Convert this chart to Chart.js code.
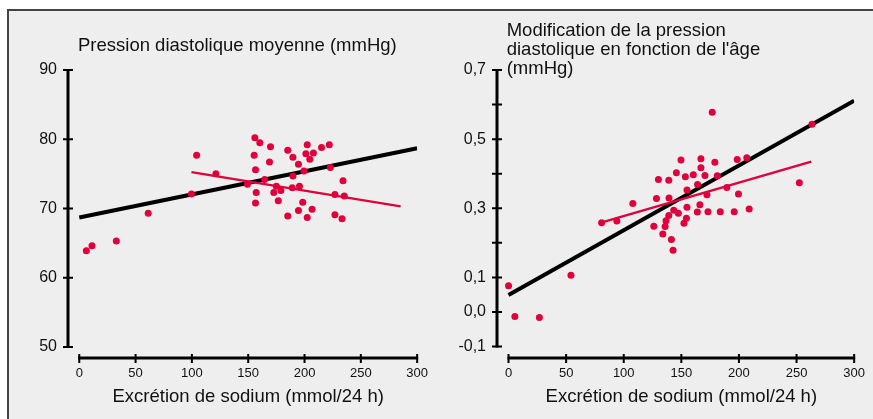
<!DOCTYPE html>
<html>
<head>
<meta charset="utf-8">
<script src="https://cdn.jsdelivr.net/npm/chart.js@4.4.1/dist/chart.umd.min.js"></script>
<style>
body { margin:0; background:#fff; width:873px; height:419px; overflow:hidden; position:relative; }
#frame { position:absolute; left:7px; top:9px; width:864px; height:420px; background:#eeeeee;
         border-top:2px solid #444; border-left:2px solid #444; border-right:1px solid #dcdcdc; }
#leftBox { position:absolute; left:0; top:0; width:436px; height:419px; }
#rightBox { position:absolute; left:436px; top:0; width:437px; height:419px; }
</style>
</head>
<body>
<div id="frame"></div>
<div id="leftBox"><canvas id="chartA" width="436" height="419"></canvas></div>
<div id="rightBox"><canvas id="chartB" width="437" height="419"></canvas></div>
<script>
// graphique de gauche : pression diastolique moyenne
const sodiumA = [6.3, 11.3, 32.9, 61.2, 99.6, 104.2, 121.3, 149.3, 155.9, 155.3, 160.3, 156.5, 157.1, 156.5, 164.6,
                 168.9, 169.8, 172.7, 175, 176.7, 179, 185.1, 185.1, 189.7, 189.7, 189.1, 194.6, 194.6, 195.5, 198.4,
                 199.5, 201.2, 202.4, 204.7, 202.4, 206.7, 207.9, 215.1, 222, 222.9, 227, 227, 234.2, 235.3, 233.3]
const pressionA = [63.9, 64.6, 65.3, 69.3, 72.1, 77.7, 75.0, 73.5, 80.2, 77.7, 79.5, 75.6, 72.3, 70.8, 74.2,
                   76.7, 78.9, 72.3, 73.2, 71.1, 72.6, 78.4, 68.9, 77.4, 74.7, 73.0, 76.4, 69.7, 73.2, 70.9,
                   75.4, 77.9, 79.2, 77.1, 68.7, 69.9, 78.0, 78.8, 79.2, 75.9, 72.0, 69.1, 74.0, 71.8, 68.5]
const blackLineA_x = [0, 300]
const blackLineA_y = [68.7, 78.7]
const redLineA_x = [99.6, 285.3]
const redLineA_y = [75.25, 70.3]
const yTicksA = [50, 60, 70, 80, 90]

// graphique de droite : modification de la pression avec l'age
const sodiumB = [0, 5.5, 26.8, 54.2, 80.8, 94.0, 107.9, 126.1, 128.4, 130.1, 133.9, 135.9, 136.7, 139.1, 139.1, 139.3,
                 141.4, 142.8, 143.4, 147.4, 149.7, 145.7, 152.3, 153.5, 154.4, 154.9, 154.9, 160.4, 164.1, 163.9,
                 166.1, 167.0, 167.0, 170.5, 172.2, 173.1, 176.8, 179.1, 181.2, 183.8, 189.5, 195.9, 198.5, 199.6,
                 206.8, 208.9, 252.4, 263.4]
const modifB = [0.076, -0.013, -0.016, 0.106, 0.258, 0.263, 0.314, 0.248, 0.328, 0.383, 0.226, 0.247, 0.264, 0.279,
                0.381, 0.330, 0.210, 0.179, 0.294, 0.286, 0.440, 0.403, 0.257, 0.391, 0.271, 0.353, 0.303, 0.397,
                0.369, 0.289, 0.310, 0.443, 0.417, 0.395, 0.339, 0.290, 0.578, 0.433, 0.394, 0.290, 0.360, 0.290,
                0.441, 0.341, 0.446, 0.298, 0.374, 0.543]
const blackLineB_x = [0, 300]
const blackLineB_y = [0.049, 0.611]
const redLineB_x = [78.8, 262.8]
const redLineB_y = [0.257, 0.435]
const yTicksB = [-0.1, 0, 0.1, 0.2, 0.3, 0.4, 0.5, 0.6, 0.7]
const yLabelsB = ['-0,1', '0,0', '0,1', '', '0,3', '', '0,5', '', '0,7']

const xTicks = [0, 50, 100, 150, 200, 250, 300]
const xTitle = 'Excrétion de sodium (mmol/24 h)'
const titleA = ['Pression diastolique moyenne (mmHg)']
const titleB = ['Modification de la pression', "diastolique en fonction de l'âge", '(mmHg)']

const RED = '#e0003c'
const FONT = "'Liberation Sans', Arial, sans-serif"
Chart.defaults.font.family = FONT

function pairs(xs, ys) {
    return xs.map((v, i) => ({x: v, y: ys[i]}))
}

// axes detaches, traits de graduation de part et d'autre, titres
const axesPlugin = {
    id: 'axesPlugin',
    beforeDatasetsDraw(chart, args, opts) {
        const ctx = chart.ctx
        const x = chart.scales.x, y = chart.scales.y
        const ax = chart.chartArea.left, ay = chart.chartArea.bottom
        ctx.save()
        ctx.strokeStyle = '#000'
        ctx.lineWidth = 3
        ctx.beginPath()
        ctx.moveTo(ax, y.getPixelForValue(opts.yFrom) + 1)
        ctx.lineTo(ax, y.getPixelForValue(opts.yTo) - 1)
        ctx.moveTo(x.getPixelForValue(xTicks[0]) - 1, ay)
        ctx.lineTo(x.getPixelForValue(xTicks[xTicks.length - 1]) + 1, ay)
        ctx.stroke()
        ctx.lineWidth = 2
        ctx.beginPath()
        y.ticks.forEach(t => {
            const p = y.getPixelForValue(t.value)
            ctx.moveTo(ax - 5, p)
            ctx.lineTo(ax + 5, p)
        })
        x.ticks.forEach(t => {
            const p = x.getPixelForValue(t.value)
            ctx.moveTo(p, ay - 4)
            ctx.lineTo(p, ay + 5)
        })
        ctx.stroke()

        ctx.fillStyle = '#111'
        ctx.font = '18.5px ' + FONT
        ctx.textBaseline = 'alphabetic'
        ctx.textAlign = 'left'
        opts.title.forEach((line, i) => ctx.fillText(line, opts.titleX, opts.titleY + i * 19))
        ctx.textAlign = 'center'
        const mid = (x.getPixelForValue(xTicks[0]) + x.getPixelForValue(xTicks[xTicks.length - 1])) / 2
        ctx.fillText(xTitle, mid, 402)
        ctx.restore()
    }
}

function makeChart(id, cfg) {
    const ctx = document.getElementById(id).getContext('2d')
    return new Chart(ctx, {
        type: 'scatter',
        data: {
            datasets: [{
                data: cfg.points,
                backgroundColor: RED,
                borderWidth: 0,
                pointRadius: 3.5,
                order: 0
            }, {
                data: cfg.redLine,
                showLine: true,
                borderColor: RED,
                borderWidth: 2.5,
                pointRadius: 0,
                order: 1
            }, {
                data: cfg.blackLine,
                showLine: true,
                borderColor: '#000',
                borderWidth: 4,
                pointRadius: 0,
                order: 2
            }]
        },
        options: {
            responsive: false,
            animation: false,
            layout: {padding: {left: 0, right: cfg.padRight, top: 70, bottom: 0}},
            plugins: {
                legend: {display: false},
                tooltip: {enabled: false},
                axesPlugin: {yFrom: cfg.yTicks[0], yTo: cfg.yTicks[cfg.yTicks.length - 1], title: cfg.title,
                             titleX: cfg.titleX, titleY: cfg.titleY}
            },
            scales: {
                x: {
                    type: 'linear', min: -10, max: 300,
                    grid: {display: false, drawTicks: false},
                    border: {display: false},
                    afterBuildTicks: s => { s.ticks = xTicks.map(v => ({value: v})) },
                    afterFit: s => { s.height = 61 },
                    ticks: {color: '#111', font: {size: 13}, padding: 8, maxRotation: 0, autoSkip: false}
                },
                y: {
                    type: 'linear', min: cfg.yMin, max: cfg.yMax,
                    grid: {display: false, drawTicks: false},
                    border: {display: false},
                    afterBuildTicks: s => { s.ticks = cfg.yTicks.map(v => ({value: v})) },
                    afterFit: s => { s.width = cfg.yWidth },
                    ticks: {color: '#111', font: {size: 16}, padding: 11, autoSkip: false,
                            callback: cfg.yLabel}
                }
            }
        },
        plugins: [axesPlugin]
    })
}

makeChart('chartA', {
    points: pairs(sodiumA, pressionA),
    redLine: pairs(redLineA_x, redLineA_y),
    blackLine: pairs(blackLineA_x, blackLineA_y),
    yMin: 48.4, yMax: 90, yTicks: yTicksA, yWidth: 68, padRight: 10,
    yLabel: v => String(v),
    title: titleA, titleX: 78, titleY: 51
})

makeChart('chartB', {
    points: pairs(sodiumB, modifB),
    redLine: pairs(redLineB_x, redLineB_y),
    blackLine: pairs(blackLineB_x, blackLineB_y),
    yMin: -0.133, yMax: 0.7, yTicks: yTicksB, yWidth: 61, padRight: 18,
    yLabel: (v) => {
        const i = yTicksB.findIndex(t => Math.abs(t - v) < 1e-6)
        return i >= 0 ? yLabelsB[i] : ''
    },
    title: titleB, titleX: 70.7, titleY: 36
})
</script>
</body>
</html>
